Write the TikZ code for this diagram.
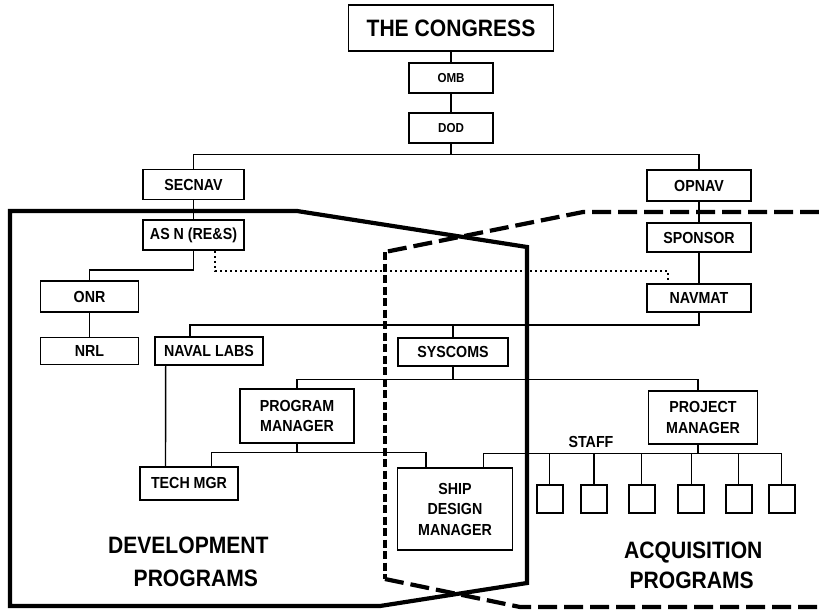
\documentclass[tikz,border=0pt]{standalone}
\usepackage{fontspec}
\setmainfont{Liberation Sans}[FakeStretch=0.89]
\tikzset{
  box/.style={draw, line width=1.6pt, inner sep=0pt, align=center,
    font=\bfseries\fontsize{16}{20.5}\selectfont},
  smallbox/.style={box, font=\bfseries\fontsize{13}{16}\selectfont},
  staffbox/.style={draw, line width=1.6pt, inner sep=0pt, minimum width=26pt, minimum height=28pt},
  conn/.style={line width=1.4pt},
  dotline/.style={line width=1.8pt, dash pattern=on 1.8pt off 3.2pt},
  bigtext/.style={inner sep=0pt, anchor=base, font=\bfseries\fontsize{23.7}{32}\selectfont},
  outl/.style={line width=4.2pt, line join=miter},
  dashlong/.style={line width=4.2pt, dash pattern=on 19pt off 7pt},
  dashshort/.style={line width=4.2pt, dash pattern=on 8pt off 3.5pt}
}
\begin{document}
\begin{tikzpicture}[x=1pt, y=-1pt]
\useasboundingbox (0,0) rectangle (819,611);
\fill[white] (0,0) rectangle (819,611);

% program outlines
\draw[outl] (10,211) -- (297,211) -- (527,247) -- (527,583) -- (380,606) -- (10,606) -- cycle;
\draw[dashlong] (819,212) -- (583,212) -- (385,252);
\draw[dashshort] (385,252) -- (385,579);
\draw[dashlong] (385,579) -- (520,607) -- (819,607);

% nodes
\node[box, minimum width=205pt, minimum height=46pt, font=\bfseries\fontsize{23.7}{28}\selectfont] (congress) at (451,28) {THE CONGRESS};
\node[smallbox, minimum width=84pt, minimum height=30pt] (omb) at (451,78) {OMB};
\node[smallbox, minimum width=84pt, minimum height=30pt] (dod) at (451,127.7) {DOD};
\node[box, minimum width=101pt, minimum height=30pt] (secnav) at (193.5,184.5) {SECNAV};
\node[box, minimum width=104pt, minimum height=31pt] (opnav) at (699,185.5) {OPNAV};
\node[box, minimum width=101pt, minimum height=30pt] (asn) at (193.5,235) {AS N (RE\&S)};
\node[box, minimum width=104pt, minimum height=29pt] (sponsor) at (699,237.5) {SPONSOR};
\node[box, minimum width=104pt, minimum height=28pt] (navmat) at (699,298) {NAVMAT};
\node[box, minimum width=98pt, minimum height=31pt] (onr) at (89.5,296.5) {ONR};
\node[box, minimum width=98pt, minimum height=27pt] (nrl) at (89.5,351) {NRL};
\node[box, minimum width=108pt, minimum height=28pt] (navlabs) at (209,351) {NAVAL LABS};
\node[box, minimum width=110pt, minimum height=27.5pt] (syscoms) at (453,352) {SYSCOMS};
\node[box, minimum width=114pt, minimum height=54pt] (pgm) at (297,416) {PROGRAM\\MANAGER};
\node[box, minimum width=109pt, minimum height=53pt] (prj) at (703,417.5) {PROJECT\\MANAGER};
\node[box, minimum width=98pt, minimum height=33pt] (tech) at (189,483.3) {TECH MGR};
\node[box, minimum width=115pt, minimum height=82pt] (sdm) at (455,509.2) {SHIP\\DESIGN\\MANAGER};
\node[staffbox] (s1) at (549.7,498.8) {};
\node[staffbox] (s2) at (594,498.8) {};
\node[staffbox] (s3) at (641.7,498.8) {};
\node[staffbox] (s4) at (691.2,498.8) {};
\node[staffbox] (s5) at (738.7,498.8) {};
\node[staffbox] (s6) at (781.7,498.8) {};
\node[inner sep=0pt, font=\bfseries\fontsize{16}{20}\selectfont] (staff) at (591,441.5) {STAFF};

\node[bigtext] (dev1) at (188.3,553.3) {DEVELOPMENT};
\node[bigtext] (dev2) at (195.8,586.7) {PROGRAMS};
\node[bigtext] (acq1) at (693.3,558.3) {ACQUISITION};
\node[bigtext] (acq2) at (691.7,588.3) {PROGRAMS};

% connectors
\draw[conn] (congress.south) -- (omb.north);
\draw[conn] (omb.south) -- (dod.north);
\coordinate (bus1) at (451,154.3);
\draw[conn] (dod.south) -- (bus1);
\draw[conn] (secnav.north) |- (bus1) -| (opnav.north);
\draw[conn] (secnav.south) -- (asn.north);
\draw[conn] (opnav.south) -- (sponsor.north);
\draw[conn] (sponsor.south) -- (navmat.north);
\draw[conn] (asn.south) -- ++(0,19) -| (onr.north);
\draw[conn] (onr.south) -- (nrl.north);
\draw[dotline] ([xshift=21.5pt]asn.south) -- ++(0,20) -| ([xshift=-31pt,yshift=2pt]navmat.north);

\coordinate (bus2) at (453,325);
\draw[conn] ([xshift=-19pt]navlabs.north) |- (bus2) -| (navmat.south);
\draw[conn] (syscoms.north) -- (bus2);
\coordinate (bus3) at (453,379.3);
\draw[conn] (pgm.north) |- (bus3) -| ([xshift=-5pt]prj.north);
\draw[conn] (syscoms.south) -- (bus3);
\draw[conn] ([xshift=-43.3pt]navlabs.south) -- ([xshift=-23.5pt]tech.north);
\coordinate (bus4) at (297,452.7);
\draw[conn] ([xshift=22.5pt]tech.north) |- (bus4) -| ([xshift=-29pt]sdm.north);
\draw[conn] (pgm.south) -- (bus4);
\coordinate (bus5) at (698,453.3);
\draw[conn] ([xshift=28.5pt]sdm.north) |- (bus5) -| (s6.north);
\draw[conn] ([xshift=-5pt]prj.south) -- (bus5);
\foreach \i in {1,...,5}{\draw[conn] (s\i.north) -- (s\i.north |- bus5);}
\end{tikzpicture}
\end{document}
